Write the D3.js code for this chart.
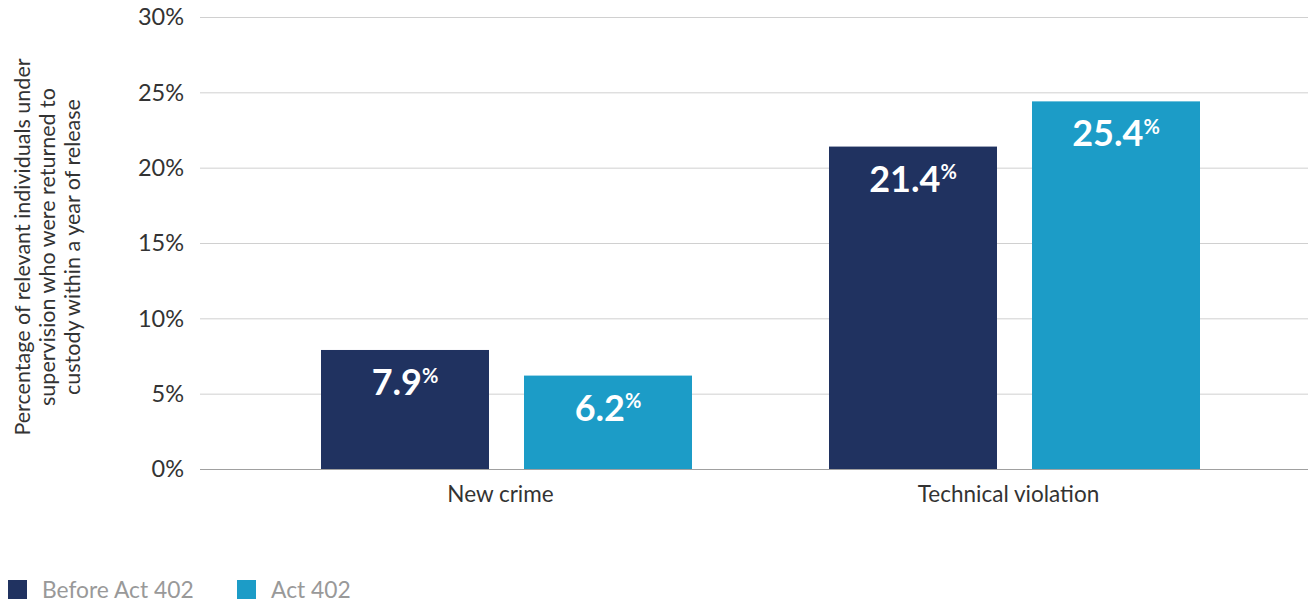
<!DOCTYPE html>
<html>
<head>
<meta charset="utf-8">
<script src="https://cdn.jsdelivr.net/npm/d3@7"></script>
<style>
  body { margin: 0; background: #fff; }
  svg { display: block; font-family: 'Lato', 'Noto Sans', sans-serif; }
</style>
</head>
<body>
<svg id="chart" width="1308" height="602"></svg>
<script>
const categories = ["New crime", "Technical violation"];
const series = ["Before Act 402", "Act 402"];
// bar heights as drawn in the picture
const beforeValues = [7.9, 21.4];
const actValues = [6.2, 24.4];
// printed labels
const beforeLabels = ["7.9", "21.4"];
const actLabels = ["6.2", "25.4"];
const yTicks = [0, 5, 10, 15, 20, 25, 30];
const colors = ["#203260", "#1c9cc7"];

const svg = d3.select("#chart");
const width = 1308;

const y = d3.scaleLinear().domain([0, 30]).range([469, 17]);
const x0 = d3.scaleBand().domain(categories).range([252, 1268]).paddingInner(0).paddingOuter(0);
const x1 = d3.scaleBand().domain(series).range([69, 69 + 371]).paddingInner(35 / 203).paddingOuter(0);

// grid
svg.append("g").selectAll("line")
  .data(yTicks)
  .enter().append("line")
  .attr("x1", 200).attr("x2", width)
  .attr("y1", d => y(d) + 0.5).attr("y2", d => y(d) + 0.5)
  .attr("stroke", d => d === 0 ? "#a0a0a0" : "#d0d0d0")
  .attr("stroke-width", 1);

// y tick labels
svg.append("g").selectAll("text")
  .data(yTicks)
  .enter().append("text")
  .attr("x", 184).attr("y", d => y(d))
  .attr("dy", "0.35em")
  .attr("text-anchor", "end")
  .attr("fill", "#333")
  .style("font-size", "23.5px")
  .text(d => d + "%");

// y axis title
const title = ["Percentage of relevant individuals under", "supervision who were returned to", "custody within a year of release"];
svg.append("text")
  .attr("transform", "translate(30,247) rotate(-90)")
  .attr("text-anchor", "middle")
  .attr("fill", "#333")
  .style("font-size", "21.5px")
  .selectAll("tspan")
  .data(title)
  .enter().append("tspan")
  .attr("x", 0)
  .attr("dy", (d, i) => i === 0 ? 0 : 25)
  .text(d => d);

const rows = categories.map((c, i) => ({
  cat: c,
  bars: [
    { s: series[0], v: beforeValues[i], label: beforeLabels[i] },
    { s: series[1], v: actValues[i], label: actLabels[i] }
  ]
}));

const group = svg.append("g").selectAll("g")
  .data(rows)
  .enter().append("g")
  .attr("transform", d => `translate(${x0(d.cat)},0)`);

group.selectAll("rect")
  .data(d => d.bars)
  .enter().append("rect")
  .attr("x", d => x1(d.s))
  .attr("y", d => y(d.v))
  .attr("width", x1.bandwidth())
  .attr("height", d => y(0) - y(d.v))
  .attr("fill", (d, i) => colors[i]);

const lbl = group.selectAll("text.val")
  .data(d => d.bars)
  .enter().append("text")
  .attr("class", "val")
  .attr("x", d => x1(d.s) + x1.bandwidth() / 2)
  .attr("y", d => y(d.v) + 45)
  .attr("text-anchor", "middle")
  .attr("fill", "#fff")
  .style("font-weight", "bold")
  .style("font-size", "36px");
lbl.append("tspan").text(d => d.label);
lbl.append("tspan")
  .attr("dy", "-0.62em")
  .style("font-size", "20px")
  .text("%");

// category labels
svg.append("g").selectAll("text")
  .data(categories)
  .enter().append("text")
  .attr("x", d => x0(d) + 69 + 371 / 2 - 6)
  .attr("y", 502)
  .attr("text-anchor", "middle")
  .attr("fill", "#333")
  .style("font-size", "22.5px")
  .text(d => d);

// legend
const legend = svg.append("g").selectAll("g")
  .data(series)
  .enter().append("g")
  .attr("transform", (d, i) => `translate(${8 + i * 229},580)`);
legend.append("rect")
  .attr("width", 19).attr("height", 19)
  .attr("fill", (d, i) => colors[i]);
legend.append("text")
  .attr("x", 34).attr("y", 10)
  .attr("dy", "0.35em")
  .attr("fill", "#999")
  .style("font-size", "22.8px")
  .text(d => d);
</script>
</body>
</html>
